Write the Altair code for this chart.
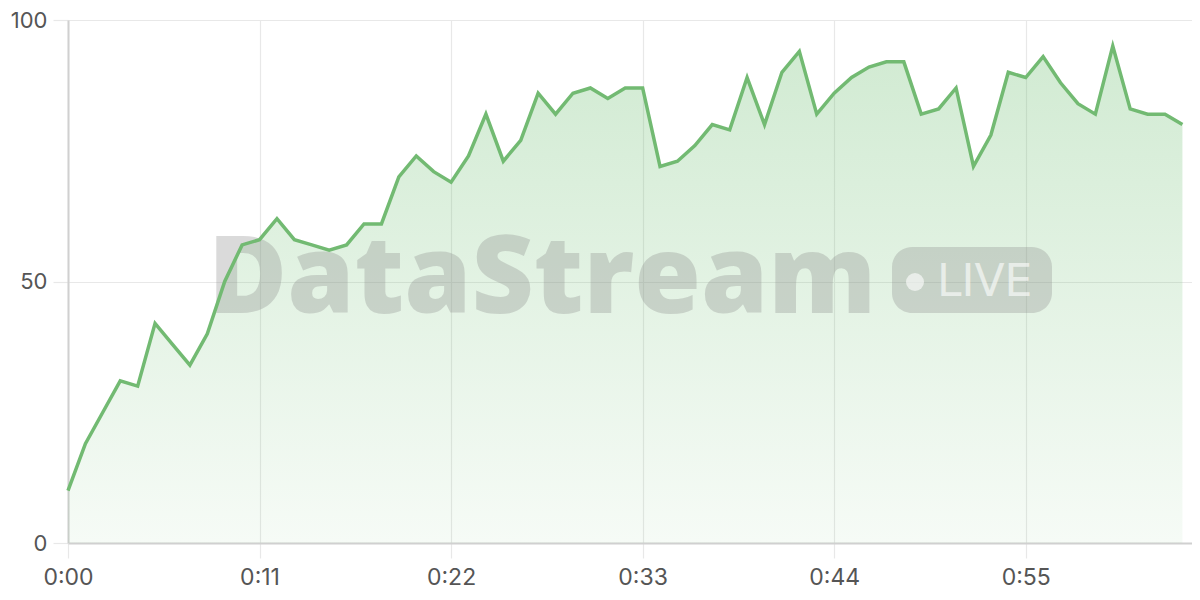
import altair as alt
import pandas as pd

seconds = list(range(65))
values = [10, 19, 25, 31, 30, 42, 38, 34, 40, 50,
          57, 58, 62, 58, 57, 56, 57, 61, 61, 70,
          74, 71, 69, 74, 82, 73, 77, 86, 82, 86,
          87, 85, 87, 87, 72, 73, 76, 80, 79, 89,
          80, 90, 94, 82, 86, 89, 91, 92, 92, 82,
          83, 87, 72, 78, 90, 89, 93, 88, 84, 82,
          95, 83, 82, 82, 80]
x_ticks = [0, 11, 22, 33, 44, 55]
x_tick_labels = ["0:00", "0:11", "0:22", "0:33", "0:44", "0:55"]
y_ticks = [0, 50, 100]
watermark_text = ["DataStream"]
badge_text = ["LIVE"]

df = pd.DataFrame({"t": seconds, "v": values})

label_expr = " : ".join(
    [f"datum.value == {v} ? '{l}'" for v, l in zip(x_ticks, x_tick_labels)]
) + " : ''"

FONT = "Inter"
common_axis = dict(
    title=None, grid=True, gridColor="#e8e8e8", gridWidth=1.2,
    domainColor="#d0d0d0", domainWidth=2,
    tickColor="#e8e8e8", tickSize=15, tickWidth=1.2,
    labelFont=FONT, labelColor="#555555",
    labelFlush=False, labelOverlap=False,
)
x_enc = alt.X(
    "t:Q",
    scale=alt.Scale(domain=[0, 64.55], nice=False, zero=False),
    axis=alt.Axis(values=x_ticks, labelExpr=label_expr, labelPadding=8,
                  labelFontSize=23, **common_axis),
)
y_enc = alt.Y(
    "v:Q",
    scale=alt.Scale(domain=[0, 100], nice=False),
    axis=alt.Axis(values=y_ticks, labelPadding=6, labelFontSize=22, **common_axis),
)

base = alt.Chart(df)

area = base.mark_area(
    color=alt.Gradient(
        gradient="linear",
        stops=[
            alt.GradientStop(color="rgba(102,187,106,0.30)", offset=0),
            alt.GradientStop(color="rgba(102,187,106,0.06)", offset=1),
        ],
        x1=0, x2=0, y1=0, y2=1,
    )
).encode(x=x_enc, y=y_enc)

line = base.mark_line(color="#72ba72", strokeWidth=3.5, strokeJoin="miter").encode(
    x="t:Q", y="v:Q"
)

wm = alt.Chart(pd.DataFrame({"s": watermark_text})).mark_text(
    font="Open Sans", fontWeight=800, fontSize=108, align="left",
    baseline="alphabetic", color="#888888", opacity=0.3,
).encode(x=alt.value(140), y=alt.value(293), text="s:N")

badge = alt.Chart(pd.DataFrame({"s": badge_text})).mark_rect(
    color="#888888", opacity=0.3, cornerRadius=20,
).encode(x=alt.value(824), x2=alt.value(984), y=alt.value(227), y2=alt.value(293))

dot = alt.Chart(pd.DataFrame({"s": badge_text})).mark_point(
    shape="circle", filled=True, color="#ffffff", opacity=0.6, size=324,
).encode(x=alt.value(847), y=alt.value(262))

live = alt.Chart(pd.DataFrame({"s": badge_text})).mark_text(
    font="DejaVu Sans", fontSize=44, align="left",
    baseline="alphabetic", color="#ffffff", opacity=0.6,
).encode(x=alt.value(869), y=alt.value(276), text="s:N")

chart = alt.layer(area, wm, badge, dot, live, line).properties(
    width=1124, height=523,
    padding={"left": 60, "top": 12, "right": 0, "bottom": 46},
    autosize=alt.AutoSizeParams(type="none"),
).configure_view(stroke=None).configure(background="white")

chart.save("out.html", embed_options={"renderer": "svg", "actions": False})
